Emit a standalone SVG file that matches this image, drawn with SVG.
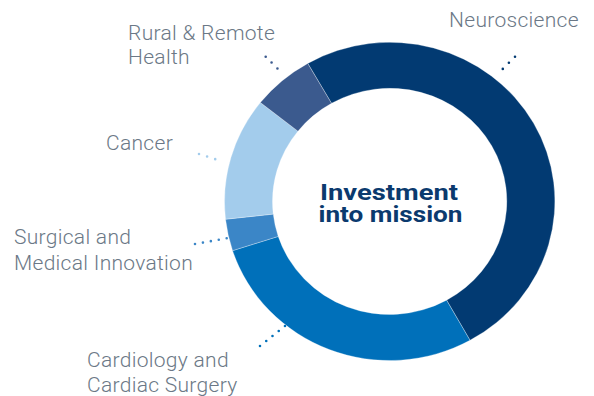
<svg xmlns="http://www.w3.org/2000/svg" width="594" height="396" viewBox="0 0 594 396">
<style>
.lbl{font-family:Roboto,"Liberation Sans",sans-serif;font-weight:300;font-size:21px;letter-spacing:0.3px;fill:#6B7886}
.ctr{font-family:Roboto,"Liberation Sans",sans-serif;font-weight:700;font-size:22.5px;fill:#0B3A6E;text-anchor:middle}
.seg{stroke:#ffffff;stroke-width:0.6;stroke-opacity:0.5}
.dot{fill:none;stroke-width:2.6;stroke-linecap:round}
</style>
<rect width="594" height="396" fill="#ffffff"/>
<g id="ring">
<g id="neuroscience"><path class="seg" fill="#023A72" d="M307.74,63.39 A165,159 0 1 1 469.99,340.29 L446.58,300.14 A117,113 0 1 0 331.53,103.35 Z"/><text class="lbl" x="449" y="27">Neuroscience</text></g>
<g id="cardiology"><path class="seg" fill="#0070BA" d="M469.99,340.29 A165,159 0 0 1 232.57,250.63 L278.22,236.42 A117,113 0 0 0 446.58,300.14 Z"/><text class="lbl" x="87" y="367">Cardiology and</text><text class="lbl" x="87" y="392">Cardiac Surgery</text></g>
<g id="surgical"><path class="seg" fill="#3B86C7" d="M232.57,250.63 A165,159 0 0 1 225.53,219.22 L273.23,214.10 A117,113 0 0 0 278.22,236.42 Z"/><text class="lbl" x="14" y="243.5">Surgical and</text><text class="lbl" x="14" y="269.5">Medical Innovation</text></g>
<g id="cancer"><path class="seg" fill="#A3CCEC" d="M225.53,219.22 A165,159 0 0 1 260.37,102.52 L297.93,131.16 A117,113 0 0 0 273.23,214.10 Z"/><text class="lbl" x="106" y="150">Cancer</text></g>
<g id="rural"><path class="seg" fill="#3B5A8E" d="M260.37,102.52 A165,159 0 0 1 307.74,63.39 L331.53,103.35 A117,113 0 0 0 297.93,131.16 Z"/><text class="lbl" x="128" y="39.5">Rural &amp; Remote</text><text class="lbl" x="128" y="64">Health</text></g>
</g>
<g id="center"><text class="ctr" x="389" y="199.5" textLength="138" lengthAdjust="spacingAndGlyphs">Investment</text><text class="ctr" x="390.5" y="221.5" textLength="144" lengthAdjust="spacingAndGlyphs">into mission</text></g>
<g id="connectors">
<path class="dot" stroke="#023A72" stroke-dasharray="0 8.63" d="M515,56.7 L496.7,75"/>
<path class="dot" stroke="#3B5A8E" stroke-dasharray="0 8.3" d="M265.7,56.7 L283.3,74.3"/>
<path class="dot" stroke="#A3CCEC" stroke-dasharray="0 8.5" d="M199,154 L223.3,161.7"/>
<path class="dot" stroke="#3B86C7" stroke-dasharray="0 8.05" d="M195,244 L226.7,238.3"/>
<path class="dot" stroke="#0070BA" stroke-dasharray="0 8" d="M260,346 L285,326"/>
</g>
</svg>
